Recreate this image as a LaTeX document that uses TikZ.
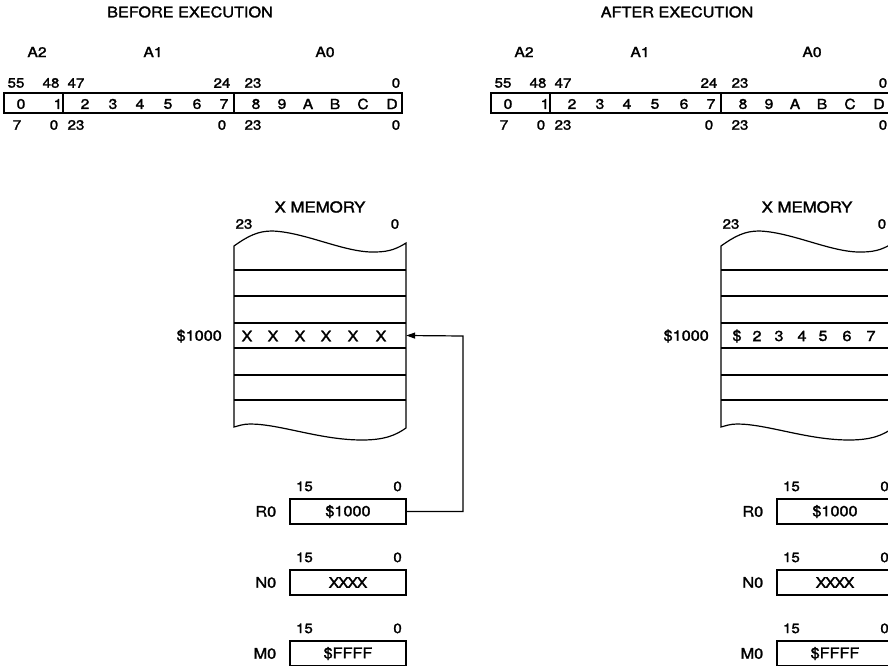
\documentclass[tikz,border=0pt]{standalone}
\usepackage{fontspec}
\setmainfont{TeX Gyre Heros}[FakeStretch=1.12,FakeBold=1.8]
\usetikzlibrary{arrows.meta,calc}
\tikzset{
  fld/.style={rectangle,draw,line width=1.2pt,minimum height=20pt,inner sep=0pt},
  reg/.style={rectangle,draw,line width=1.2pt,minimum width=116pt,minimum height=25pt,inner sep=0pt,font=\fontsize{14.5}{16}\selectfont},
  bit/.style={inner sep=0pt,font=\fontsize{13.5}{15}\selectfont},
  ch/.style={inner sep=0pt,font=\fontsize{14}{16}\selectfont},
  val/.style={inner sep=0pt,font=\fontsize{14.5}{16}\selectfont},
  ttl/.style={inner sep=0pt,font=\fontsize{14.5}{16}\selectfont},
  mem/.style={line width=1.2pt},
  ptr/.style={line width=1.2pt,-{Triangle[length=9pt,width=6pt]}},
}
\begin{document}
\begin{tikzpicture}[x=1pt,y=-1pt]
\useasboundingbox (0,0) rectangle (888,666);
\clip (0,0) rectangle (888,666);
% -before-
\begin{scope}
\node[ttl] (ttlb) at (190,12) {BEFORE EXECUTION};
\node[ch] (nmb2) at (37,52) {A2};
\node[ch] (nmb1) at (153,52) {A1};
\node[ch] (nmb0) at (325,52) {A0};
\node[fld,minimum width=59pt] (ba2) at (33.5,103) {};
\node[fld,minimum width=171pt] (ba1) at (148.5,103) {};
\node[fld,minimum width=168pt] (ba0) at (318,103) {};
\foreach \c/\x in {0/21,1/58,2/85,3/113,4/140,5/168,6/197,7/224,8/256,9/282,A/308,B/335,C/363,D/392}
  \node[ch] (bc\c) at (\x,104) {\c};
\foreach \t/\x [count=\i] in {55/16,48/51,47/76,24/222,23/253,0/396}
  \node[bit] (bup\i) at (\x,83) {\t};
\foreach \t/\x [count=\i] in {7/17,0/54,23/76,0/222,23/253,0/396}
  \node[bit] (bdn\i) at (\x,125) {\t};
% memory
\node[ch,font=\fontsize{15}{17}\selectfont] (bmt) at (320,207) {X MEMORY};
\node[bit] (bm23) at (244,224) {23};
\node[bit] (bm0) at (395,224) {0};
\draw[mem] (234,246) .. controls (248,236) and (258,231) .. (272,231)
  .. controls (305,232) and (345,253) .. (375,252)
  .. controls (390,252) and (398,248) .. (406,243) -- (406,428)
  .. controls (396,435) and (385,440) .. (362,440)
  .. controls (320,440) and (280,424) .. (250,424)
  .. controls (243,424) and (238,426) .. (234,427) -- cycle;
\foreach \y in {270,296,323,348,375,400} \draw[mem] (234,\y) -- (406,\y);
\node[minimum width=172pt,minimum height=25pt,inner sep=0pt] (brow) at (320,335.5) {};
\foreach \c/\x [count=\i] in {X/247,X/273,X/300,X/326,X/353,X/381}
  \node[val] (bx\i) at (\x,336) {\c};
\node[val,anchor=east] (baddr) at (222,336) {\$1000};
% registers
\node[reg] (br0) at (348,511.5) {\$1000};
\node[reg] (bn0) at (348,582.5) {X\kern-1.5pt X\kern-1.5pt X\kern-1.5pt X};
\node[reg] (bm0r) at (348,653.5) {\$FFFF};
\foreach \r/\l in {br0/R0,bn0/N0,bm0r/M0}{
  \node[val,anchor=east] (\r l) at ([xshift=-13pt]\r.west) {\l};
  \node[bit] (\r hi) at ($(\r.north west)+(15,-12)$) {15};
  \node[bit] (\r lo) at ($(\r.north east)+(-9,-12)$) {0};
}
\coordinate (bend) at (463,336);
\draw[ptr] (br0.east) -| (bend) -- (brow.east);
\end{scope}
% -after-
\begin{scope}[shift={(487,0)}]
\node[ttl] (ttla) at (190,12) {AFTER EXECUTION};
\node[ch] (nma2) at (37,52) {A2};
\node[ch] (nma1) at (153,52) {A1};
\node[ch] (nma0) at (325,52) {A0};
\node[fld,minimum width=59pt] (aa2) at (33.5,103) {};
\node[fld,minimum width=171pt] (aa1) at (148.5,103) {};
\node[fld,minimum width=168pt] (aa0) at (318,103) {};
\foreach \c/\x in {0/21,1/58,2/85,3/113,4/140,5/168,6/197,7/224,8/256,9/282,A/308,B/335,C/363,D/392}
  \node[ch] (ac\c) at (\x,104) {\c};
\foreach \t/\x [count=\i] in {55/16,48/51,47/76,24/222,23/253,0/396}
  \node[bit] (aup\i) at (\x,83) {\t};
\foreach \t/\x [count=\i] in {7/17,0/54,23/76,0/222,23/253,0/396}
  \node[bit] (adn\i) at (\x,125) {\t};
% memory
\node[ch,font=\fontsize{15}{17}\selectfont] (amt) at (320,207) {X MEMORY};
\node[bit] (am23) at (244,224) {23};
\node[bit] (am0) at (395,224) {0};
\draw[mem] (234,246) .. controls (248,236) and (258,231) .. (272,231)
  .. controls (305,232) and (345,253) .. (375,252)
  .. controls (390,252) and (398,248) .. (406,243) -- (406,428)
  .. controls (396,435) and (385,440) .. (362,440)
  .. controls (320,440) and (280,424) .. (250,424)
  .. controls (243,424) and (238,426) .. (234,427) -- cycle;
\foreach \y in {270,296,323,348,375,400} \draw[mem] (234,\y) -- (406,\y);
\node[minimum width=172pt,minimum height=25pt,inner sep=0pt] (arow) at (320,335.5) {};
\foreach \c/\x [count=\i] in {\$/250,2/270,3/292,4/315,5/336,6/360,7/384}
  \node[val] (ax\i) at (\x,336) {\c};
\node[val,anchor=east] (aaddr) at (222,336) {\$1000};
% registers
\node[reg] (ar0) at (348,511.5) {\$1000};
\node[reg] (an0) at (348,582.5) {X\kern-1.5pt X\kern-1.5pt X\kern-1.5pt X};
\node[reg] (am0r) at (348,653.5) {\$FFFF};
\foreach \r/\l in {ar0/R0,an0/N0,am0r/M0}{
  \node[val,anchor=east] (\r l) at ([xshift=-13pt]\r.west) {\l};
  \node[bit] (\r hi) at ($(\r.north west)+(15,-12)$) {15};
  \node[bit] (\r lo) at ($(\r.north east)+(-9,-12)$) {0};
}
\end{scope}
\end{tikzpicture}
\end{document}
